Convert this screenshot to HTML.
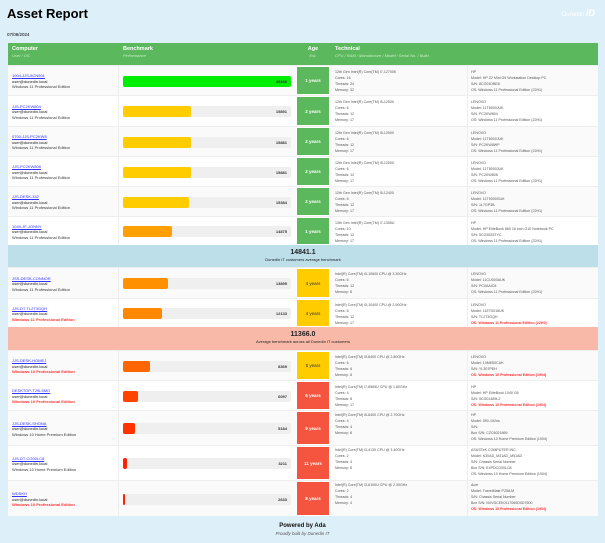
<!DOCTYPE html>
<html><head><meta charset="utf-8"><style>
*{margin:0;padding:0;box-sizing:border-box}
body{width:605px;height:543px;background:#ddeff9;font-family:"Liberation Sans",sans-serif;position:relative;overflow:hidden;color:#333}
.a{position:absolute}
h1{position:absolute;left:7px;top:6px;font-size:13px;font-weight:bold;color:#000;line-height:16px}
.date{left:7px;top:32px;font-size:4.5px;color:#000}
.logo{right:10px;top:8px;font-size:6px;color:#fff}
.hdr{left:8px;top:43px;width:590px;height:22px;background:#5cb85c;color:#fff}
.hdr div{position:absolute;top:3px;font-size:5.5px;font-weight:bold}
.hdr span{display:block;font-size:4px;font-weight:normal;font-style:italic;color:#c8eec8;margin-top:1px}
.row{position:absolute;left:8px;width:590px;border-top:1px solid #eee}
.c1{position:absolute;left:4px;font-size:4px;line-height:5.5px}
.c1 a{color:#33f;text-decoration:underline}
.trk{position:absolute;left:115px;width:168px;height:11px;background:#efefef;border-radius:2px}
.bar{position:absolute;left:0;top:0;height:11px;border-radius:2px}
.val{position:absolute;right:4px;top:3px;font-size:4px;font-weight:bold;color:#333}
.age{position:absolute;left:288px;width:34px;top:0;bottom:0;color:#fff;font-size:4.5px;font-weight:bold;display:flex;align-items:center;justify-content:center;border:1px solid #fff}
.t1,.t2{position:absolute;font-size:3.6px;line-height:6px;color:#555}
.t1{left:327px}.t2{left:463px}
.red{color:#f33;font-weight:bold}
.band{position:absolute;left:8px;width:590px;text-align:center}
.band b{display:block;font-size:7px;line-height:8px;margin-top:4px;color:#222}
.band span{display:block;font-size:4px;line-height:6px;color:#222}
.vl{position:absolute;top:0;bottom:0;width:1px;background:#eee}
</style></head><body>
<h1>Asset Report</h1>
<div class="a date">07/08/2024</div>
<div class="a logo">Dunedin <b style="font-size:9px;font-style:italic">ID</b></div>
<div class="a" style="left:8px;top:43px;width:590px;height:473px;background:#fff"></div>
<div class="a hdr">
<div style="left:4px">Computer<span>User / OS</span></div>
<div style="left:115px">Benchmark<span>Performance</span></div>
<div style="left:288px;width:34px;text-align:center">Age<span>Est.</span></div>
<div style="left:327px">Technical<span>CPU / RAM / Manufacture / Model / Serial No. / Build</span></div>
</div>
<div id="rows"></div>
<script>
const R=[
[65,30,'1004-JJS-8CN501','Windows 11 Professional Edition',0,40330,1,'#00ee00','1 years','#5cb85c','12th Gen Intel(R) Core(TM) i7-12700K',16,24,32,'HP','HP Z2 Mini G9 Workstation Desktop PC','8CG01DBE8','Windows 11 Professional Edition (22H1)',0],
[95,31,'JJS-PC2KW804','Windows 11 Professional Edition',0,15891,.405,'#ffcc00','2 years','#5cb85c','12th Gen Intel(R) Core(TM) i5-12500',6,12,17,'LENOVO','11T8000JUK','PC2KW804','Windows 11 Professional Edition (22H1)',0],
[126,30,'0700-JJS-PC2KW8','Windows 11 Professional Edition',0,15881,.405,'#ffcc00','2 years','#5cb85c','12th Gen Intel(R) Core(TM) i5-12500',6,12,17,'LENOVO','11T8000JUK','PC2KW8WP','Windows 11 Professional Edition (22H1)',0],
[156,30,'JJS-PC2KW808','Windows 11 Professional Edition',0,15881,.405,'#ffcc00','2 years','#5cb85c','12th Gen Intel(R) Core(TM) i5-12500',6,12,17,'LENOVO','11T8000JUK','PC2KW808','Windows 11 Professional Edition (22H1)',0],
[186,30,'JJS-DESK-342','Windows 11 Professional Edition',0,15384,.39,'#ffcc00','2 years','#5cb85c','12th Gen Intel(R) Core(TM) i5-12400',6,12,17,'LENOVO','11T9000GUK','1L7GP3B','Windows 11 Professional Edition (22H1)',0],
[216,29,'1049-JF-JONNY','Windows 11 Professional Edition',0,14875,.29,'#ff9f00','1 years','#5cb85c','13th Gen Intel(R) Core(TM) i7-1355U',10,12,17,'HP','HP EliteBook 860 16 inch G10 Notebook PC','5CG3525TYC','Windows 11 Professional Edition (22H1)',0],
[267,31,'JSS-DESK-CONNOR','Windows 11 Professional Edition',0,13895,.27,'#ff9100','4 years','#ffcc00','Intel(R) Core(TM) i5-10600 CPU @ 3.30GHz',6,12,8,'LENOVO','11CU000AUK','PC0AAIC8','Windows 11 Professional Edition (22H1)',0],
[298,29,'JJS-DT-TL2T3GQH','Windows 11 Professional Edition',1,12133,.23,'#ff8800','4 years','#ffcc00','Intel(R) Core(TM) i5-10400 CPU @ 2.90GHz',6,12,17,'LENOVO','11ET0016UK','TL2T3GQH','Windows 11 Professional Edition (22H2)',1],
[350,30,'JJS-DESK-HOMEJ','Windows 10 Professional Edition',1,8369,.16,'#ff6600','5 years','#ffcc00','Intel(R) Core(TM) i5-8400 CPU @ 2.80GHz',6,6,8,'LENOVO','10M8S0CUK','YL307PEH','Windows 10 Professional Edition (1904)',1],
[380,30,'DESKTOP-T29L5MO','Windows 10 Professional Edition',1,6097,.09,'#ff4400','6 years','#f5553e','Intel(R) Core(TM) i7-8565U CPU @ 1.80GHz',4,8,17,'HP','HP EliteBook 1040 G6','5CG01489L2','Windows 10 Professional Edition (1904)',1],
[410,35,'JJS-DESK-SHONA','Windows 10 Home Premium Edition',0,5184,.07,'#ff3300','9 years','#f5553e','Intel(R) Core(TM) i5-6400 CPU @ 2.70GHz',4,4,8,'HP','590-152ns','','Windows 10 Home Premium Edition (1904)',0,'CZC6021869'],
[445,35,'JJS-DT-CG00LC8','Windows 10 Home Premium Edition',0,3211,.025,'#ff2200','11 years','#f5553e','Intel(R) Core(TM) i3-4130 CPU @ 3.40GHz',2,4,8,'ASUSTeK COMPUTER INC.','K30AD_M31AD_M51AD','Chassis Serial Number','Windows 10 Home Premium Edition (1904)',0,'E4PDCG00LC8'],
[480,36,'WDSKH','Windows 10 Professional Edition',1,2633,.012,'#ff2200','8 years','#f5553e','Intel(R) Core(TM) i3-6100U CPU @ 2.30GHz',2,4,4,'Acer','TravelMate P258-M','Chassis Serial Number','Windows 10 Professional Edition (1904)',1,'NXVDCEK0117060D0D7600']
];
let h='';
R.forEach((r,i)=>{
const [y,ht,n,os,osr,v,f,col,age,ac,cpu,c,t,m,mf,mo,sn,b,br,box]=r;
const bg=i%2?'#fff':'#fafafa';
const ty=box?1:3;
h+=`<div class="row" style="top:${y}px;height:${ht}px;background:${bg}">
<div class="vl" style="left:110px"></div><div class="vl" style="left:459px"></div>
<div class="c1" style="top:${ht/2-8}px"><a>${n}</a><br><span style="color:#222">user@dunedin.local</span><br><span class="${osr?'red':''}">${os}</span></div>
<div class="trk" style="top:${ht/2-5.5}px"><div class="bar" style="width:${Math.max(f*168,2)}px;background:${col}"></div><div class="val">${v}</div></div>
<div class="age" style="background:${ac};${ac=='#ffcc00'?'color:#333;font-weight:normal':''}">${age}</div>
<div class="t1" style="top:${ty}px">${cpu}<br>Cores: ${c}<br>Threads: ${t}<br>Memory: ${m}</div>
<div class="t2" style="top:${box?1:3}px">${mf}<br>Model: ${mo}<br>S/N: ${sn}<br>${box?'Box S/N: '+box+'<br>':''}<span class="${br?'red':''}">OS: ${b}</span></div>
</div>`;
});
h+=`<div class="band" style="top:245px;height:22px;background:#bcdfea"><b>14841.1</b><span>Dunedin IT customers average benchmark</span></div>`;
h+=`<div class="band" style="top:327px;height:23px;background:#f8b9a8"><b>11366.0</b><span>Average benchmark across all Dunedin IT customers</span></div>`;
document.getElementById('rows').innerHTML=h;
</script>
<div class="a" style="left:0;width:605px;top:523px;text-align:center;font-size:6px;font-weight:bold;color:#111">Powered by Ada</div>
<div class="a" style="left:0;width:605px;top:531px;text-align:center;font-size:4.5px;font-style:italic;color:#555">Proudly built by Dunedin IT</div>
</body></html>
